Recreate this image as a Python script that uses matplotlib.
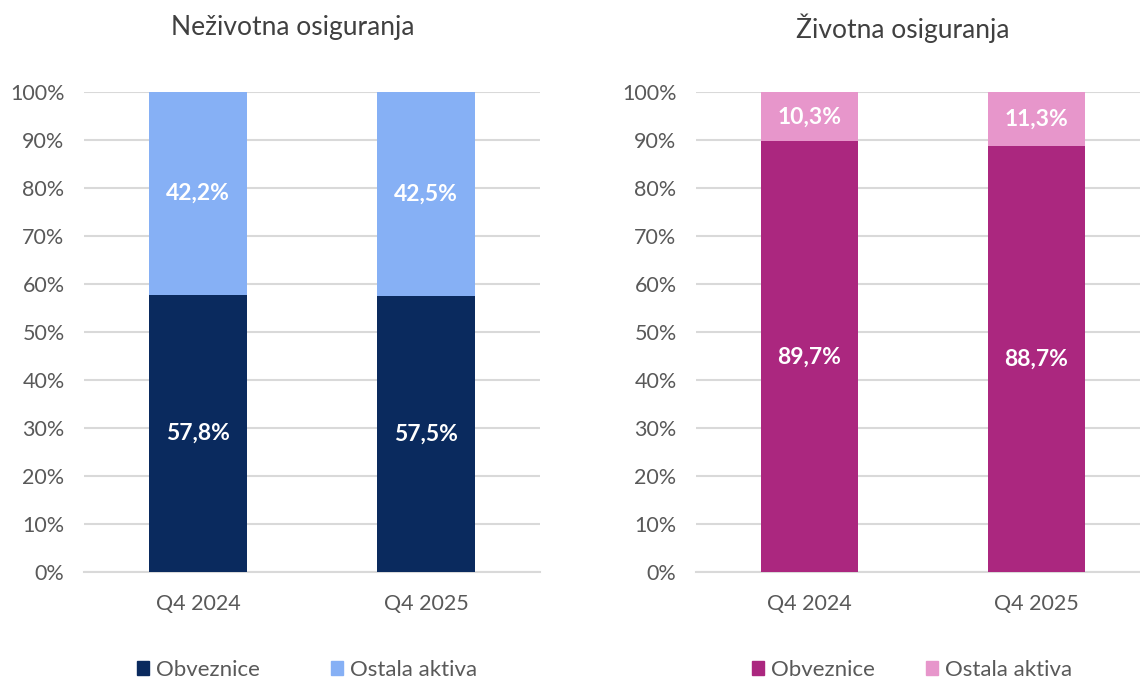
import matplotlib
matplotlib.use("Agg")
import matplotlib.pyplot as plt
from matplotlib.patches import Patch

plt.rcParams['font.family'] = ['Lato', 'DejaVu Sans']

categories = ["Q4 2024", "Q4 2025"]
nonlife_bonds = [57.8, 57.5]
nonlife_other = [42.2, 42.5]
life_bonds = [89.7, 88.7]
life_other = [10.3, 11.3]
series_names = ["Obveznice", "Ostala aktiva"]
yticks = [0, 10, 20, 30, 40, 50, 60, 70, 80, 90, 100]
titles = ["Neživotna osiguranja", "Životna osiguranja"]

W, H = 1140, 680
fig = plt.figure(figsize=(W / 100, H / 100), dpi=100)

grey = "#595959"
gridc = "#d9d9d9"

def px(x0, x1, ytop, ybot):
    return [x0 / W, (H - ybot) / H, (x1 - x0) / W, (ybot - ytop) / H]

def panel(rect, bonds, other, c1, c2):
    ax = fig.add_axes(rect)
    x = range(len(categories))
    ax.bar(x, bonds, width=0.43, color=c1, zorder=3)
    ax.bar(x, other, bottom=bonds, width=0.43, color=c2, zorder=3)
    for i in x:
        ax.text(i, bonds[i] / 2, f"{bonds[i]:.1f}%".replace(".", ","),
                ha="center", va="center", color="white", fontsize=16.5, fontweight="bold", zorder=4)
        ax.text(i, bonds[i] + other[i] / 2, f"{other[i]:.1f}%".replace(".", ","),
                ha="center", va="center", color="white", fontsize=16.5, fontweight="bold", zorder=4)
    ax.set_xlim(-0.5, 1.5)
    ax.set_ylim(0, 100)
    ax.set_yticks(yticks)
    ax.set_yticklabels([f"{t}%" for t in yticks])
    ax.set_xticks(list(x))
    ax.set_xticklabels(categories)
    ax.grid(axis="y", color=gridc, linewidth=1.5, zorder=0)
    for s in ["top", "right", "left"]:
        ax.spines[s].set_visible(False)
    ax.spines["bottom"].set_color(gridc)
    ax.spines["bottom"].set_linewidth(1.5)
    ax.tick_params(axis="both", length=0, colors=grey, labelsize=15.5)
    ax.tick_params(axis="y", pad=14)
    ax.tick_params(axis="x", pad=16)
    return ax

panel(px(84, 540, 92, 572), nonlife_bonds, nonlife_other, "#0a2a5e", "#86b0f5")
panel(px(696, 1150, 92, 572), life_bonds, life_other, "#ab277f", "#e796cb")

fig.text(293 / W, 1 - 28 / H, titles[0], ha="center", va="center", fontsize=19, color="#404040")
fig.text(903 / W, 1 - 28 / H, titles[1], ha="center", va="center", fontsize=19, color="#404040")

def legend(xc, c1, c2, gap):
    handles = [Patch(color=c1), Patch(color=c2)]
    fig.legend(handles, series_names, loc="center", bbox_to_anchor=(xc / W, 1 - 670 / H),
               ncol=2, frameon=False, fontsize=16, labelcolor=grey, handlelength=0.55,
               handleheight=0.55, handletextpad=0.3, columnspacing=gap)

legend(307, "#0a2a5e", "#86b0f5", 3.2)
legend(912, "#ab277f", "#e796cb", 2.3)

fig.savefig("out.png", dpi=100)
